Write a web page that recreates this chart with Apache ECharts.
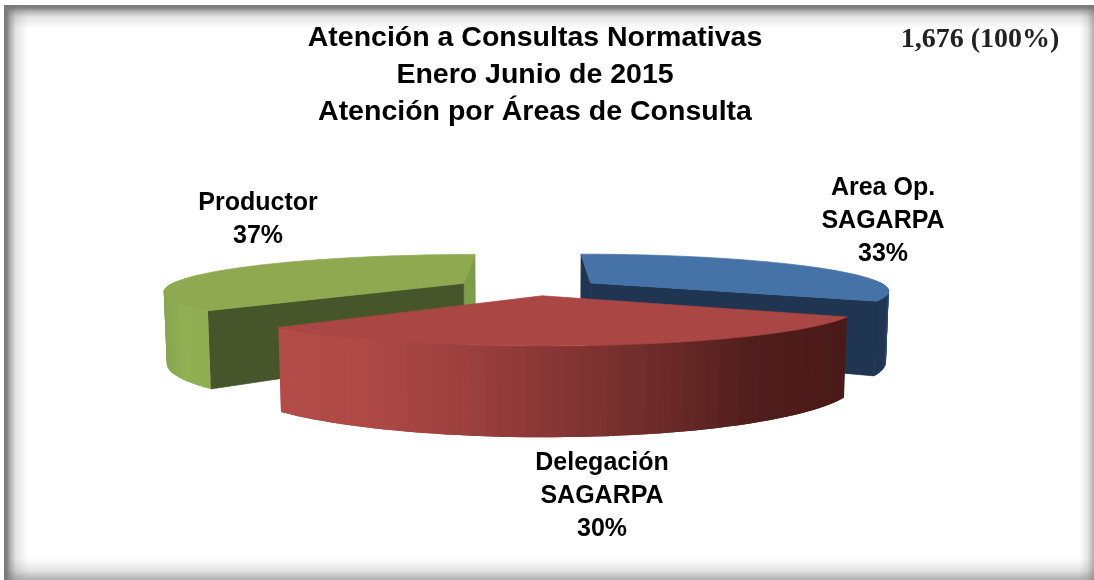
<!DOCTYPE html>
<html><head><meta charset="utf-8">
<style>html,body{margin:0;padding:0;background:#fff}#c{width:1094px;height:580px}</style>
<script src="https://cdn.jsdelivr.net/npm/echarts@6/dist/echarts.min.js"></script>
</head><body><div id="c"></div>
<script>
const categories = ['Area Op.\nSAGARPA', 'Delegación\nSAGARPA', 'Productor'];
const shares = [33, 30, 37];
const titleLines = ['Atención a Consultas Normativas', 'Enero Junio de 2015', 'Atención por Áreas de Consulta'];
const totalLabel = '1,676 (100%)';

const view = {cx: 533, cy: 287, R: 297, A: 36, H: 70, k: 0.2, m: 0.008, start: -90};
const looks = [
  {explode: 0.23, top: '#4573A7', wall: [[0, '#1F3552'], [0.75, '#1F3552'], [1, '#2A4A70']], cutNear: '#1F3552', cutFar: '#1F3552', z: 1, label: [883, 221]},
  {explode: 0.235, top: '#AA4643', wall: [[0, '#B34C48'], [0.15, '#AE4946'], [0.33, '#9C403E'], [0.45, '#8B3836'], [0.65, '#6F2D2B'], [0.85, '#4F1D1B'], [1, '#4A1A18']], z: 20, label: [602, 496]},
  {explode: 0.26, top: '#8EA950', wall: [[0, '#87A650'], [0.4, '#90B052'], [1, '#8FAE52']], cutNear: '#47562A', cutFar: '#7F9C4C', z: 5, label: [258, 220]}
];

function project(X, Y, z) {
  const d = 1 - view.k * Y + view.m * z;
  return [view.cx + view.R * X / d, view.cy + (view.A * Y + view.H * z) / d];
}
function hex(c) { return [1, 3, 5].map(i => parseInt(c.substr(i, 2), 16)); }
function shade(stops, t) {
  t = Math.max(0, Math.min(1, t));
  for (let i = 1; i < stops.length; i++) {
    if (t <= stops[i][0]) {
      const f = (t - stops[i - 1][0]) / (stops[i][0] - stops[i - 1][0]);
      const a = hex(stops[i - 1][1]), b = hex(stops[i][1]);
      return 'rgb(' + a.map((v, j) => Math.round(v + (b[j] - v) * f)).join(',') + ')';
    }
  }
  return stops[stops.length - 1][1];
}
function renderSlice(params, api) {
  const i = params.dataIndex;
  const value = api.value(0);
  const total = shares.reduce((a, b) => a + b, 0);
  const before = shares.slice(0, i).reduce((a, b) => a + b, 0);
  const a = view.start + before / total * 360;
  const b = a + value / total * 360;
  const mid = (a + b) / 2 * Math.PI / 180;
  const look = looks[i];
  const ox = Math.cos(mid) * look.explode, oy = Math.sin(mid) * look.explode;
  const rim = (deg, z) => project(ox + Math.cos(deg * Math.PI / 180), oy + Math.sin(deg * Math.PI / 180), z);
  const kids = [];
  const poly = (points, fill, z2, lw) => kids.push({type: 'polygon', shape: {points}, z2, style: {fill, stroke: lw ? fill : null, lineWidth: lw || 0}});
  const apexT = project(ox, oy, 0), apexB = project(ox, oy, 1);
  if (look.cutNear) {
    const nearDeg = i === 0 ? b : a, farDeg = i === 0 ? a : b;
    poly([apexT, rim(farDeg, 0), rim(farDeg, 1), apexB], look.cutFar, look.z, 0.7);
    poly([apexT, rim(nearDeg, 0), rim(nearDeg, 1), apexB], look.cutNear, look.z + 1, 0.7);
  }
  const p = Math.max(a, -3), q = Math.min(b, 183);
  const n = Math.max(2, Math.ceil((q - p) / 2));
  const xsTop = Array.from({length: n + 1}, (_, t) => rim(p + (q - p) * t / n, 0)[0]);
  const x0 = Math.min(...xsTop), x1 = Math.max(...xsTop);
  for (let t = 0; t < n; t++) {
    const u = p + (q - p) * t / n, v = p + (q - p) * (t + 1) / n, w = p + (q - p) * Math.min(n, t + 2) / n;
    const xm = (rim(u, 0)[0] + rim(v, 0)[0]) / 2;
    poly([rim(u, 0), rim(v, 0), rim(w, 0), rim(w, 1), rim(v, 1), rim(u, 1)], shade(look.wall, (xm - x0) / (x1 - x0)), look.z + 2 + t);
  }
  const topPts = [apexT];
  const m = Math.ceil((b - a) / 1.5);
  for (let t = 0; t <= m; t++) topPts.push(rim(a + (b - a) * t / m, 0));
  poly(topPts, look.top, look.z + 3 + n, 0.7);
  kids.push({type: 'text', z2: 200, style: {
    x: look.label[0], y: look.label[1], text: categories[i] + '\n' + value + '%', align: 'center', verticalAlign: 'middle',
    font: 'bold 25px "Liberation Sans"', lineHeight: 33, fill: '#000'}});
  return {type: 'group', children: kids};
}
const edge = 'rgba(122,122,122,';
const stopsStrong = [[0, 1], [0.12, 0.95], [0.25, 0.6], [0.5, 0.2], [1, 0]].map(s => ({offset: s[0], color: edge + s[1] + ')'}));
const stopsSoft = [[0, 0.6], [0.45, 0.2], [1, 0]].map(s => ({offset: s[0], color: edge + s[1] + ')'}));
function band(shape, x0, y0, x1, y1, stops) {
  return {type: 'rect', shape, style: {fill: new echarts.graphic.LinearGradient(x0, y0, x1, y1, stops)}, silent: true, z: 0};
}
const chart = echarts.init(document.getElementById('c'), null, {renderer: 'canvas'});
chart.setOption({
  animation: false,
  backgroundColor: '#fff',
  title: {
    text: titleLines.join('\n'), left: 530, top: 15, textAlign: 'center',
    textStyle: {fontFamily: '"Liberation Sans"', fontWeight: 'bold', fontSize: 28.5, lineHeight: 37, color: '#000'}
  },
  graphic: [
    band({x: 4, y: 5, width: 24, height: 575}, 0, 0, 1, 0, stopsStrong),
    band({x: 1080, y: 5, width: 14, height: 575}, 1, 0, 0, 0, stopsSoft),
    band({x: 4, y: 5, width: 1090, height: 24}, 0, 0, 0, 1, stopsStrong),
    band({x: 4, y: 558, width: 1090, height: 22}, 0, 1, 0, 0, stopsSoft),
    {type: 'text', z: 5, style: {x: 980, y: 40, text: totalLabel, align: 'center', verticalAlign: 'middle', font: 'bold 28px "Liberation Serif"', fill: '#222'}}
  ],
  series: [{
    type: 'custom', coordinateSystem: 'none', clip: false,
    renderItem: renderSlice, data: shares.map(v => [v]), encode: {value: 0}
  }]
});
</script></body></html>
